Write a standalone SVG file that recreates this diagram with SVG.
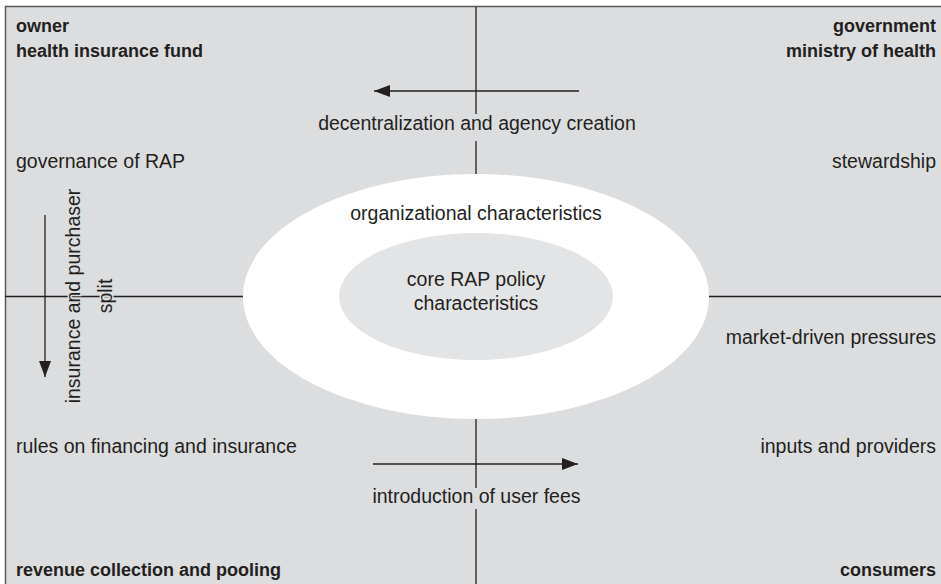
<svg xmlns="http://www.w3.org/2000/svg" width="941" height="584" viewBox="0 0 941 584">
<style>
text{font-family:"Liberation Sans",Arial,sans-serif;fill:#231f20}
.r{font-size:19.5px}
.b{font-size:18px;font-weight:bold}
.m{text-anchor:middle}
.e{text-anchor:end}
.ln{stroke:#231f20;stroke-width:1.3;fill:none}
.halo{paint-order:stroke;stroke:#dcdddf;stroke-width:3}
</style>
<defs>
<marker id="ah" markerUnits="userSpaceOnUse" markerWidth="16" markerHeight="12" refX="16" refY="6" orient="auto">
<path d="M0,0 L16,6 L0,12 z" fill="#231f20"/>
</marker>
</defs>
<rect x="0" y="0" width="941" height="584" fill="#ffffff"/>
<rect x="5" y="6" width="936" height="578" fill="#dcdddf"/>
<path d="M5.5,584 V6.5 H941" stroke="#5a5a5c" stroke-width="1.5" fill="none"/>
<g id="connectors">
<path class="ln" d="M476,7 V114 M476,141 V200 M476,400 V488 M476,509 V584"/>
<path class="ln" d="M5,296.5 H260 M690,296.5 H941"/>
<line class="ln" x1="579" y1="91" x2="374" y2="91" marker-end="url(#ah)"/>
<line class="ln" x1="373" y1="464" x2="578" y2="464" marker-end="url(#ah)"/>
<line class="ln" x1="45" y1="215" x2="45" y2="377" marker-end="url(#ah)"/>
</g>
<g id="outer">
<ellipse cx="476" cy="296.5" rx="233" ry="122.5" fill="#ffffff"/>
<text class="r m" x="476" y="220">organizational characteristics</text>
</g>
<g id="core">
<ellipse cx="476" cy="296.5" rx="137" ry="63.5" fill="#e3e4e6"/>
<text class="r m" x="476" y="286">core RAP policy</text>
<text class="r m" x="476" y="310">characteristics</text>
</g>
<g id="owner">
<text class="b" x="16" y="32">owner</text>
<text class="b" x="16" y="57">health insurance fund</text>
</g>
<g id="government">
<text class="b e" x="936" y="32">government</text>
<text class="b e" x="936" y="57">ministry of health</text>
</g>
<g id="revenue">
<text class="b" x="16" y="576">revenue collection and pooling</text>
</g>
<g id="consumers">
<text class="b e" x="936" y="576">consumers</text>
</g>
<g id="governance"><text class="r" x="16" y="168">governance of RAP</text></g>
<g id="stewardship"><text class="r e" x="936" y="168">stewardship</text></g>
<g id="market"><text class="r e" x="936" y="344">market-driven pressures</text></g>
<g id="rules"><text class="r" x="16" y="453">rules on financing and insurance</text></g>
<g id="inputs"><text class="r e" x="936" y="453">inputs and providers</text></g>
<g id="decentralization"><text class="r m" x="477" y="130">decentralization and agency creation</text></g>
<g id="userfees"><text class="r m" x="476.5" y="503">introduction of user fees</text></g>
<g id="split" transform="translate(80,296) rotate(-90)">
<text class="r m halo" x="0" y="0">insurance and purchaser</text>
<text class="r m halo" x="0" y="32">split</text>
</g>
</svg>
